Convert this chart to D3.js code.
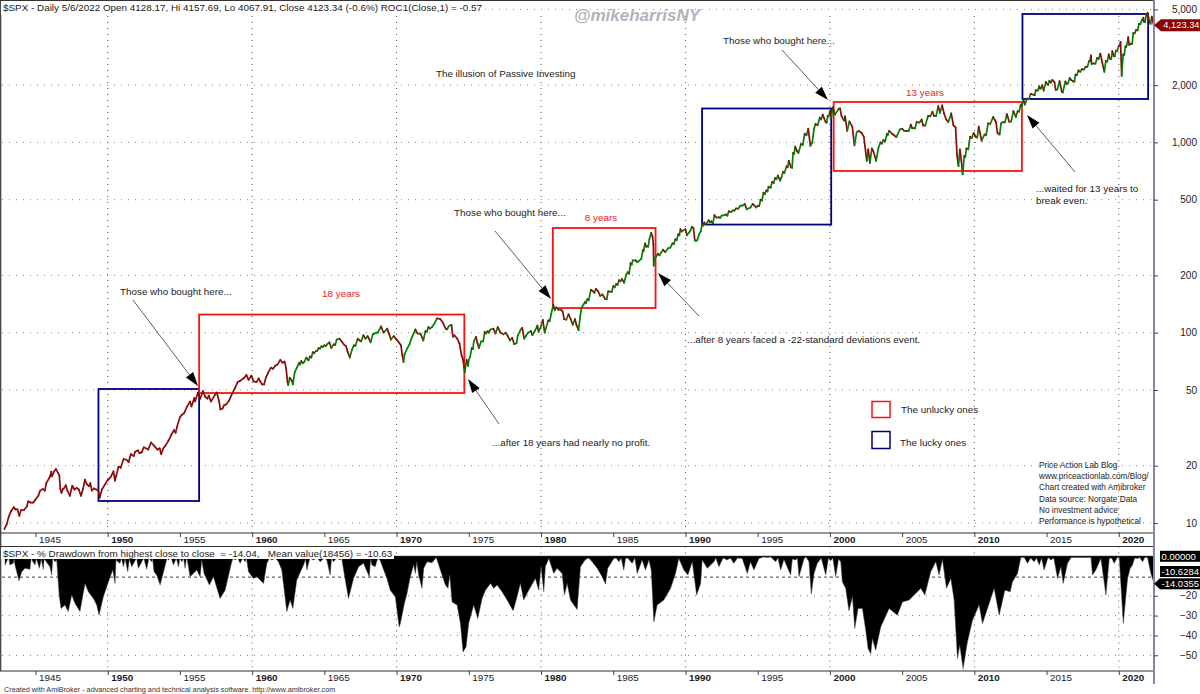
<!DOCTYPE html>
<html>
<head>
<meta charset="utf-8">
<script src="https://cdnjs.cloudflare.com/ajax/libs/d3/7.8.5/d3.min.js"></script>
<style>
  html, body { margin: 0; padding: 0; background: #fff; }
  svg { display: block; }
  text { font-family: "Liberation Sans", Arial, sans-serif; fill: #222; }
</style>
</head>
<body>
<div id="chart"></div>
<script>
// year ticks and price levels
const yearTicks = d3.range(1945, 2021, 5);
const decadeTicks = d3.range(1950, 2021, 10);
const priceTicks = [10, 20, 50, 100, 200, 500, 1000, 2000, 5000];
const drawdownTicks = [-20, -30, -40, -50];
const greenFrom = 1962.3;

// [year, close]
const priceCloses = [
[1942.85,9.3],[1943.0,9.8],[1943.15,10.8],[1943.3,11.5],[1943.5,12.1],[1943.6,11.8],[1943.75,11.8],[1943.88,10.9],
[1944.0,11.7],[1944.2,11.7],[1944.4,12.2],[1944.5,13],[1944.65,12.8],[1944.85,12.8],[1945.0,13.3],[1945.2,13.9],
[1945.3,14.7],[1945.5,15.1],[1945.65,14.8],[1945.75,16.2],[1946.0,17.5],[1946.1,18.6],[1946.15,17.6],[1946.3,18.7],
[1946.42,19.2],[1946.55,18.4],[1946.65,17.8],[1946.72,15.1],[1946.8,14.4],[1946.9,15.1],[1947.0,15.3],[1947.1,15.8],
[1947.2,14.9],[1947.38,13.9],[1947.5,15.2],[1947.55,15.7],[1947.7,15.0],[1947.85,15.3],[1948.0,15.0],[1948.15,13.9],
[1948.3,15.2],[1948.42,16.9],[1948.55,16.0],[1948.7,15.6],[1948.8,16.2],[1948.9,14.8],[1949.05,15.2],[1949.2,15.0],
[1949.35,14.8],[1949.45,13.6],[1949.6,15.0],[1949.8,15.9],[1950.0,16.8],[1950.2,17.4],[1950.4,18.7],[1950.5,16.7],
[1950.6,17.8],[1950.75,19.8],[1950.9,19.5],[1951.1,21.7],[1951.3,21.5],[1951.45,20.9],[1951.6,23],[1951.8,22.5],
[1951.9,23.7],[1952.1,24.1],[1952.2,23.3],[1952.35,23.5],[1952.5,25],[1952.8,24.3],[1953.0,26.5],[1953.2,25.5],
[1953.45,24.3],[1953.6,24.7],[1953.7,23.0],[1953.85,24.7],[1954.0,25.5],[1954.2,27],[1954.4,29],[1954.6,30.8],
[1954.7,29.8],[1954.8,32],[1955.0,35.9],[1955.1,36.8],[1955.3,37.9],[1955.5,41],[1955.7,43.5],[1955.8,41],
[1956.0,45.5],[1956.05,43.5],[1956.25,48.5],[1956.4,45],[1956.6,49.4],[1956.75,46],[1956.9,45],[1957.0,46.7],
[1957.15,43.5],[1957.45,47.4],[1957.55,48.5],[1957.7,44],[1957.8,39.5],[1957.95,40],[1958.05,41.5],[1958.2,42],
[1958.4,44],[1958.6,47.5],[1958.8,51],[1959.0,55],[1959.2,56],[1959.45,58],[1959.6,60],[1959.75,56.5],
[1959.95,59.5],[1960.1,55.5],[1960.3,55],[1960.45,57.5],[1960.55,55.5],[1960.7,53.5],[1960.83,53.5],[1960.95,58],
[1961.1,61.5],[1961.3,65.5],[1961.45,64.6],[1961.6,67],[1961.75,68],[1961.95,72],[1962.1,69.5],[1962.25,70.5],
[1962.35,65],[1962.45,55],[1962.5,53],[1962.6,58],[1962.75,56],[1962.82,53.5],[1962.95,62],[1963.1,65.5],
[1963.25,69.5],[1963.4,71],[1963.6,70],[1963.75,74],[1963.9,71.5],[1964.0,75],[1964.2,79],[1964.4,80],
[1964.6,83],[1964.8,85],[1965.0,86],[1965.2,87],[1965.35,89],[1965.48,83],[1965.65,87],[1965.85,92],
[1966.05,93],[1966.2,90],[1966.4,86],[1966.5,85],[1966.6,80],[1966.76,74],[1966.9,81],[1967.05,86],
[1967.3,93],[1967.45,91],[1967.7,97],[1967.85,93],[1968.0,96],[1968.2,89],[1968.35,98],[1968.6,100],
[1968.7,100],[1968.92,108],[1969.1,100],[1969.35,105],[1969.5,98],[1969.6,92],[1969.8,96],[1970.0,92],
[1970.15,89],[1970.3,86],[1970.4,76],[1970.48,70],[1970.55,77],[1970.75,83],[1970.9,87],[1971.0,92],
[1971.3,104],[1971.45,99],[1971.65,99],[1971.85,91],[1972.0,102],[1972.2,107],[1972.45,107],[1972.6,111],
[1972.8,119],[1973.02,118],[1973.2,113],[1973.4,105],[1973.5,104],[1973.6,108],[1973.8,110],[1973.9,95],
[1974.0,97],[1974.2,93],[1974.35,88],[1974.5,76],[1974.6,72],[1974.72,62],[1974.85,72],[1974.95,67],
[1975.0,72],[1975.2,83],[1975.35,90],[1975.5,95],[1975.6,88],[1975.7,83],[1975.85,90],[1976.0,90],
[1976.1,101],[1976.3,102],[1976.5,104],[1976.7,105],[1976.85,99],[1977.0,107],[1977.2,100],[1977.4,98],
[1977.55,100],[1977.7,96],[1977.85,91],[1978.0,94],[1978.15,87],[1978.3,88],[1978.4,97],[1978.6,104],
[1978.7,106],[1978.83,93],[1978.95,96],[1979.1,100],[1979.3,102],[1979.4,97],[1979.6,103],[1979.75,109],
[1979.83,101],[1980.0,108],[1980.12,117],[1980.25,100],[1980.3,103],[1980.5,116],[1980.7,125],[1980.85,140],
[1980.95,131],[1981.05,136],[1981.2,132],[1981.4,132],[1981.5,129],[1981.6,118],[1981.75,117],[1981.9,125],
[1982.05,118],[1982.2,110],[1982.35,118],[1982.45,110],[1982.6,103],[1982.7,120],[1982.8,135],[1982.95,141],
[1983.05,145],[1983.2,150],[1983.45,168],[1983.6,165],[1983.8,170],[1983.95,165],[1984.1,156],[1984.25,159],
[1984.45,150],[1984.55,150],[1984.65,165],[1984.9,164],[1985.0,176],[1985.2,180],[1985.4,189],[1985.6,192],
[1985.75,183],[1985.9,202],[1986.0,208],[1986.2,232],[1986.35,240],[1986.55,240],[1986.65,235],[1986.75,237],
[1986.95,245],[1987.05,272],[1987.2,295],[1987.35,285],[1987.5,310],[1987.63,335],[1987.72,320],[1987.78,290],
[1987.8,225],[1987.85,245],[1987.95,250],[1988.1,260],[1988.3,262],[1988.45,273],[1988.6,265],[1988.8,278],
[1988.95,280],[1989.1,295],[1989.3,310],[1989.5,330],[1989.65,350],[1989.75,340],[1989.85,345],[1990.0,350],
[1990.1,325],[1990.3,340],[1990.45,360],[1990.55,355],[1990.65,305],[1990.8,305],[1990.95,330],[1991.05,340],
[1991.15,370],[1991.3,380],[1991.45,375],[1991.6,390],[1991.8,385],[1991.9,375],[1992.0,415],[1992.3,405],
[1992.5,412],[1992.7,415],[1992.8,418],[1993.0,435],[1993.3,440],[1993.5,450],[1993.8,465],[1993.95,465],
[1994.1,475],[1994.25,445],[1994.5,455],[1994.65,475],[1994.9,455],[1995.0,465],[1995.2,500],[1995.4,545],
[1995.6,560],[1995.75,585],[1996.0,620],[1996.2,650],[1996.4,670],[1996.55,630],[1996.75,700],[1997.0,750],
[1997.15,800],[1997.3,740],[1997.45,880],[1997.6,950],[1997.72,900],[1997.82,880],[1998.0,980],[1998.25,1110],
[1998.5,1180],[1998.65,960],[1998.78,1000],[1998.9,1180],[1999.0,1250],[1999.3,1350],[1999.5,1400],[1999.7,1280],
[1999.85,1380],[2000.0,1460],[2000.1,1350],[2000.2,1530],[2000.35,1400],[2000.6,1500],[2000.7,1510],[2000.8,1380],
[2000.98,1300],[2001.05,1370],[2001.2,1150],[2001.35,1290],[2001.55,1210],[2001.7,965],[2001.85,1130],[2002.0,1150],
[2002.2,1120],[2002.35,1070],[2002.55,800],[2002.65,920],[2002.77,780],[2002.9,930],[2003.0,900],[2003.2,800],
[2003.35,930],[2003.5,1000],[2003.7,1030],[2003.95,1110],[2004.1,1150],[2004.3,1110],[2004.6,1065],[2004.85,1170],
[2005.0,1180],[2005.3,1150],[2005.6,1240],[2005.8,1190],[2006.0,1280],[2006.35,1320],[2006.45,1230],[2006.8,1380],
[2007.1,1450],[2007.2,1380],[2007.5,1550],[2007.62,1430],[2007.77,1565],[2007.9,1420],[2008.05,1320],[2008.2,1280],
[2008.4,1420],[2008.55,1230],[2008.7,1200],[2008.8,860],[2008.9,750],[2009.0,920],[2009.1,800],[2009.19,680],
[2009.3,850],[2009.45,930],[2009.7,1070],[2009.95,1120],[2010.1,1070],[2010.3,1210],[2010.5,1020],[2010.7,1100],
[2010.95,1260],[2011.3,1360],[2011.5,1280],[2011.6,1120],[2011.75,1100],[2011.85,1260],[2012.0,1280],[2012.25,1410],
[2012.42,1280],[2012.7,1460],[2012.87,1360],[2013.0,1460],[2013.2,1570],[2013.4,1670],[2013.5,1580],[2013.65,1700],
[2013.9,1800],[2014.1,1780],[2014.25,1880],[2014.5,1970],[2014.6,1920],[2014.7,2000],[2014.8,1870],[2014.95,2080],
[2015.1,2000],[2015.2,2110],[2015.4,2130],[2015.55,2070],[2015.63,1880],[2015.75,1900],[2015.9,2100],[2016.05,1850],
[2016.12,1830],[2016.3,2090],[2016.48,2040],[2016.6,2180],[2016.85,2090],[2017.0,2270],[2017.2,2390],[2017.45,2430],
[2017.7,2500],[2017.95,2680],[2018.07,2870],[2018.12,2580],[2018.25,2600],[2018.5,2780],[2018.72,2930],[2018.85,2640],
[2019.0,2350],[2019.1,2680],[2019.3,2900],[2019.4,2750],[2019.55,3020],[2019.65,2840],[2019.8,3040],[2020.0,3230],
[2020.12,3380],[2020.2,2237],[2020.3,2900],[2020.45,3200],[2020.6,3350],[2020.65,3580],[2020.72,3240],[2020.83,3300],
[2021.0,3750],[2021.2,3900],[2021.4,4200],[2021.6,4400],[2021.7,4520],[2021.75,4300],[2021.9,4700],[2022.0,4790],
[2022.1,4350],[2022.2,4200],[2022.28,4580],[2022.42,4120]
];

// small pullbacks inside the long rises
const priceSwings = [
[1963.3,68],[1963.5,69],[1964.1,74],[1964.3,78],[1964.5,80],[1964.7,82.5],[1964.9,84],[1965.1,85],[1965.75,86],
[1967.15,85],[1967.55,90],[1972.1,101],[1972.3,105],[1975.1,75],[1975.28,82],[1976.2,99],[1976.4,100],[1980.6,115],
[1983.1,143],[1983.3,148],[1983.7,162],[1985.1,173],[1985.3,178],[1985.5,186],[1986.1,204],[1986.28,228],[1987.1,268],
[1987.28,283],[1987.42,283],[1988.2,255],[1989.2,292],[1989.4,307],[1989.58,325],[1991.22,365],[1991.38,372],[1991.7,380],
[1992.15,402],[1992.4,400],[1992.9,412],[1993.15,430],[1993.4,438],[1993.65,448],[1995.1,462],[1995.3,495],[1995.5,535],
[1995.68,552],[1995.9,578],[1996.1,610],[1996.3,640],[1996.65,655],[1996.85,690],[1997.08,740],[1997.38,735],[1997.52,870],
[1998.12,970],[1998.38,1090],[1999.15,1230],[1999.4,1320],[1999.78,1270],[1999.92,1370],[2003.6,985],[2003.82,1010],
[2004.0,1090],[2004.45,1090],[2005.15,1150],[2005.45,1145],[2005.7,1185],[2005.9,1185],[2006.2,1270],[2006.6,1225],
[2006.95,1370],[2007.35,1375],[2009.38,840],[2009.58,920],[2009.82,1055],[2010.2,1060],[2010.82,1095],[2011.1,1250],
[2012.12,1275],[2012.55,1290],[2013.1,1450],[2013.3,1560],[2013.78,1690],[2014.18,1770],[2014.38,1870],[2014.55,1915],
[2015.3,2060],[2016.4,2030],[2016.7,2130],[2016.93,2085],[2017.1,2260],[2017.33,2350],[2017.58,2410],[2017.82,2490],
[2018.0,2670],[2018.38,2590],[2018.6,2740],[2019.2,2660],[2019.48,2745],[2019.72,2830],[2019.9,3030],[2020.06,3220],
[2020.38,2880],[2020.52,3180],[2020.92,3280],[2021.1,3740],[2021.3,3880],[2021.5,4180],[2021.65,4380],[2021.82,4290],
[2021.95,4680]
];

// [year, percent below the running high]
const drawdownPoints = [
[1942.89,-4.5],[1943.05,-2],[1943.23,-4.5],[1943.46,-3.7],[1943.58,-4.5],[1943.86,-12.5],[1944.04,-8],[1944.27,-6.2],
[1944.62,-6.7],[1944.78,-2.4],[1944.97,-4.5],[1945.13,-2.9],[1945.27,-6.2],[1945.54,-6.7],[1945.66,-2],[1946.0,-5.4],
[1946.12,-9.6],[1946.35,-2.9],[1946.47,-2],[1946.65,-20.5],[1946.77,-26.4],[1947.04,-24.7],[1947.27,-28],[1947.51,-19.7],
[1947.74,-23.9],[1948.08,-28],[1948.43,-13.8],[1948.66,-18],[1949.01,-21.4],[1949.24,-24.7],[1949.4,-29.8],[1949.7,-20.5],
[1950.05,-13],[1950.35,-7],[1950.51,-13.8],[1950.62,-2.4],[1950.85,-3.7],[1951.09,-5.4],[1951.39,-7.9],[1951.66,-5.4],
[1951.89,-2.4],[1952.12,-6.2],[1952.36,-2.9],[1952.7,-6.7],[1953.05,-2.9],[1953.21,-7.9],[1953.39,-9.6],[1953.63,-14.6],
[1954.02,-3.7],[1954.2,-2],[1954.55,-4.5],[1954.9,-5.4],[1955.13,-2.9],[1955.36,-6.2],[1955.52,-2.4],[1955.7,-10.4],
[1956.17,-7],[1956.4,-10.4],[1956.51,-2],[1956.67,-8.8],[1957.04,-14.6],[1957.32,-10.4],[1957.78,-21.4],[1958.13,-17.2],
[1958.59,-2.9],[1958.82,-2],[1959.17,-3.7],[1959.51,-2.9],[1959.75,-7.9],[1960.09,-11.3],[1960.32,-10.4],[1960.79,-13.8],
[1961.02,-3.7],[1961.36,-2],[1961.82,-2.9],[1962.05,-7],[1962.4,-28],[1962.63,-22.2],[1962.82,-26.4],[1963.09,-12.1],
[1963.56,-4.5],[1963.79,-7],[1964.25,-2],[1964.71,-2.9],[1965.17,-2],[1965.4,-9.6],[1965.63,-2.9],[1966.1,-2],
[1966.33,-7],[1966.67,-21.4],[1967.02,-11.3],[1967.37,-5.4],[1967.71,-3.7],[1968.11,-10.4],[1968.29,-4.5],[1968.52,-5.4],
[1968.87,-2.4],[1969.33,-11.3],[1969.56,-17.2],[1969.91,-20.5],[1970.18,-35.7],[1970.26,-34],[1970.54,-23.9],[1970.72,-18.9],
[1970.95,-10.5],[1971.18,-4.5],[1971.3,-8.8],[1971.53,-9.6],[1971.76,-16.3],[1971.88,-6.2],[1972.11,-2.9],[1972.45,-3.4],
[1972.75,-0.8],[1973.03,-7.1],[1973.38,-14.6],[1973.56,-16.3],[1973.68,-9.6],[1973.84,-23.1],[1974.19,-24.7],[1974.42,-34],
[1974.6,-48.3],[1974.81,-45.8],[1974.99,-34],[1975.34,-24.7],[1975.62,-31.5],[1975.92,-21.4],[1976.15,-17.2],[1976.5,-13.8],
[1976.73,-16.3],[1976.96,-14.6],[1977.3,-18],[1977.65,-22.2],[1978.07,-27.6],[1978.34,-20.5],[1978.57,-13.8],[1978.8,-22.2],
[1979.15,-17.2],[1979.61,-11.3],[1979.84,-17.2],[1980.0,-5.4],[1980.19,-18],[1980.3,-5.4],[1980.54,-1.2],[1980.88,-8.8],
[1981.11,-6.2],[1981.46,-8.8],[1981.62,-19.7],[1981.81,-13.8],[1982.04,-22.2],[1982.5,-27],[1982.73,-5.4],[1983.08,-1.7],
[1983.54,-2.9],[1983.89,-6.2],[1984.23,-10.4],[1984.46,-14.1],[1984.62,-6.2],[1985.04,-1.2],[1985.39,-2.9],[1985.73,-7.1],
[1985.85,-1.2],[1986.31,-3.7],[1986.66,-8.8],[1987.0,-2],[1987.23,-7.1],[1987.47,-2],[1987.63,-7.1],[1987.81,-33.2],
[1988.04,-24.7],[1988.5,-22.2],[1988.97,-16.3],[1989.31,-8.8],[1989.54,-1.2],[1989.89,-7.1],[1990.17,-9.6],[1990.47,-2.9],
[1990.77,-19.7],[1991.05,-13.8],[1991.16,-2],[1991.51,-6.2],[1991.97,-2.9],[1992.32,-5.4],[1992.89,-2],[1993.35,-3.7],
[1993.93,-1.2],[1994.28,-8.8],[1994.74,-7.1],[1995.09,-1.2],[1995.66,-0.7],[1996.24,-2.9],[1996.59,-7.1],[1996.82,-1.7],
[1997.28,-9.6],[1997.63,-2],[1997.86,-10.4],[1998.21,-1.2],[1998.55,-2.9],[1998.71,-19.2],[1998.9,-8.8],[1999.13,-3.7],
[1999.71,-9.6],[2000.05,-2.4],[2000.4,-10.4],[2000.75,-2.9],[2000.86,-13],[2001.09,-16.3],[2001.32,-27.6],[2001.56,-20.5],
[2001.72,-36.5],[2001.95,-26.4],[2002.25,-26.4],[2002.48,-37.4],[2002.64,-46.6],[2002.83,-49.2],[2002.94,-41.6],[2003.17,-47.5],
[2003.52,-35.7],[2004.1,-26.4],[2004.67,-29.8],[2005.02,-23.1],[2005.48,-22.2],[2005.83,-19.7],[2006.29,-16.3],[2006.57,-19.7],
[2006.98,-7.9],[2007.33,-2.9],[2007.56,-9.6],[2007.79,-1.7],[2008.07,-16.3],[2008.37,-11.3],[2008.6,-22.2],[2008.83,-51.7],
[2008.99,-44.9],[2009.22,-56.7],[2009.52,-43.3],[2009.87,-32.3],[2010.33,-24.7],[2010.56,-34],[2010.91,-26.4],[2011.37,-16.3],
[2011.72,-29.8],[2012.11,-17.2],[2012.48,-18],[2012.64,-13],[2012.99,-8.8],[2013.22,-0.7],[2013.68,-3.7],[2014.14,-2.9],
[2014.49,-4.5],[2014.83,-7.1],[2015.3,-2],[2015.76,-11.3],[2015.99,-5.4],[2016.15,-13.8],[2016.45,-3.7],[2016.91,-0.8],
[2018.07,-0.7],[2018.18,-9.6],[2018.41,-7.1],[2018.76,-1.2],[2019.11,-19.7],[2019.34,-1.2],[2019.68,-3.7],[2020.03,-0.7],
[2020.31,-34],[2020.61,-11.3],[2020.79,-6.2],[2020.95,-4.5],[2021.3,-1.2],[2021.65,-2.9],[2021.99,-0.7],[2022.22,-8.8],
[2022.45,-14]
];

// near-zero gaps between the thin spikes of the calm stretches
const drawdownRecoveries = [
[1943.15,-1],[1943.52,-1.5],[1944.7,-1],[1945.05,-1.2],[1945.4,-1.5],[1945.6,-1.5],[1946.2,-1],[1950.58,-1],[1950.95,-1],
[1951.2,-1.2],[1951.5,-1.5],[1952.0,-1],[1952.5,-1],[1952.85,-1],[1953.1,-1],[1954.1,-1],[1954.4,-1],[1954.75,-1],[1955.0,-1],
[1955.25,-1],[1955.45,-1],[1958.7,-1],[1959.0,-1],[1959.35,-1],[1959.6,-1],[1961.2,-1],[1961.6,-1],[1963.7,-1.5],[1964.0,-1],
[1964.5,-1],[1965.0,-1],[1965.5,-1],[1965.85,-1],[1966.2,-1],[1968.2,-1.5],[1968.7,-1],[1971.4,-3],[1983.3,-1],[1985.2,-1],
[1985.55,-1],[1986.0,-1],[1986.5,-1],[1992.1,-1],[1992.6,-1],[1993.1,-1],[1993.6,-1],[1994.5,-3],[1995.4,-0.5],[1995.9,-0.5],
[1996.4,-1],[1997.4,-1.5],[1997.75,-1],[1998.35,-0.5],[1999.4,-1],[1999.9,-1],[2000.2,-1],[2000.6,-1.5],[2013.45,-0.7],
[2013.9,-1],[2014.3,-1],[2014.65,-1],[2015.1,-0.7],[2015.5,-1],[2016.7,-0.7],[2019.5,-1],[2019.9,-0.7],[2021.1,-1],[2021.45,-0.7],
[2021.8,-0.7]
];

const meanDrawdown = -10.63;

// [from year, to year, low price, high price]
const luckyBoxes = [[1949.36,1956.33,13.05,50.6],[1991.15,2000.09,370,1507],[2013.33,2022.03,1691,4729]];
const unluckyBoxes = [[1956.33,1974.69,48.2,124.6],[1980.82,1987.93,134.8,355],[2000.26,2013.29,707.6,1630]];

const noteLines = ["Price Action Lab Blog","www.priceactionlab.com/Blog/","Chart created with Amibroker","Data source: Norgate Data","No investment advice","Performance is hypothetical"];

const byYear = (a, b) => d3.ascending(a[0], b[0]);
const allCloses = priceCloses.concat(priceSwings).sort(byYear);
const allDrawdown = drawdownPoints.concat(drawdownRecoveries).sort(byYear);

const svg = d3.select("#chart").append("svg").attr("width", 1200).attr("height", 694);

// layout of the two panes
const plotRight = 1154;
const mainTop = 0, mainBottom = 533, stripBottom = 546.5, lowerBottom = 671;

const xScale = d3.scaleLinear().domain([1950, 2020]).range([107.7, 1118.8]);
const yScale = d3.scaleLog().domain([10, 1000]).range([523, 142.4]);
const ddScale = d3.scaleLinear().domain([0, -50]).range([556, 655.3]);

// grid
const grid = svg.append("g");
grid.selectAll(".hgrid").data(priceTicks).join("line")
  .attr("x1", 2).attr("x2", plotRight)
  .attr("y1", d => yScale(d)).attr("y2", d => yScale(d))
  .attr("stroke", "#7f8a8f").attr("stroke-dasharray", "1,6");
grid.selectAll(".ddgrid").data(drawdownTicks).join("line")
  .attr("x1", 2).attr("x2", plotRight)
  .attr("y1", d => ddScale(d)).attr("y2", d => ddScale(d))
  .attr("stroke", "#777").attr("stroke-dasharray", "1,6");
grid.selectAll(".vgrid").data(decadeTicks).join("line")
  .attr("x1", d => xScale(d)).attr("x2", d => xScale(d))
  .attr("y1", 16).attr("y2", mainBottom)
  .attr("stroke", "#555").attr("stroke-dasharray", "1,5");
grid.selectAll(".vgrid2").data(decadeTicks).join("line")
  .attr("x1", d => xScale(d)).attr("x2", d => xScale(d))
  .attr("y1", stripBottom).attr("y2", lowerBottom)
  .attr("stroke", "#555").attr("stroke-dasharray", "1,5");

// mean drawdown line sits under the black area
svg.append("line")
  .attr("x1", 2).attr("x2", plotRight)
  .attr("y1", ddScale(meanDrawdown)).attr("y2", ddScale(meanDrawdown))
  .attr("stroke", "#444").attr("stroke-dasharray", "3,3");

// drawdown area
const ddArea = d3.area()
  .x(d => xScale(d[0]))
  .y0(ddScale(0))
  .y1(d => ddScale(d[1]));
svg.append("path").datum(allDrawdown)
  .attr("d", ddArea)
  .attr("fill", "#000").attr("stroke", "#444").attr("stroke-width", 0.5);

// boxes first, the price runs over them
function drawBoxes(rows, colour) {
  svg.append("g").selectAll("rect").data(rows).join("rect")
    .attr("x", d => xScale(d[0]))
    .attr("y", d => yScale(d[3]))
    .attr("width", d => xScale(d[1]) - xScale(d[0]))
    .attr("height", d => yScale(d[2]) - yScale(d[3]))
    .attr("fill", "none").attr("stroke", colour).attr("stroke-width", 1.8);
}
drawBoxes(luckyBoxes, "#000080");
drawBoxes(unluckyBoxes, "#ff1010");

// price, one segment per step, coloured by direction
const segments = d3.pairs(allCloses);
svg.append("g").selectAll("line").data(segments).join("line")
  .attr("x1", d => xScale(d[0][0])).attr("y1", d => yScale(d[0][1]))
  .attr("x2", d => xScale(d[1][0])).attr("y2", d => yScale(d[1][1]))
  .attr("stroke", d => (d[1][0] > greenFrom && d[1][1] >= d[0][1]) ? "#008000" : "#8b0a0a")
  .attr("stroke-width", 1.7).attr("stroke-linecap", "round");

// frame
const frame = svg.append("g").attr("stroke", "#333").attr("stroke-width", 1.2);
[mainTop + 0.5, mainBottom, stripBottom, lowerBottom].forEach(y => {
  frame.append("line").attr("x1", 0).attr("x2", plotRight).attr("y1", y).attr("y2", y);
});
frame.append("line").attr("x1", 0.7).attr("x2", 0.7).attr("y1", 0).attr("y2", lowerBottom);
svg.append("line").attr("x1", plotRight).attr("x2", plotRight).attr("y1", 0).attr("y2", 684)
  .attr("stroke", "#8b84a8").attr("stroke-width", 2);

// axes
function styleYearAxis(g) {
  g.select(".domain").remove();
  g.selectAll(".tick line").attr("stroke", "#444");
  g.selectAll(".tick text")
    .attr("text-anchor", "start").attr("x", 3).attr("y", 2.5)
    .attr("font-size", 9.9)
    .attr("font-weight", d => d % 10 === 0 ? "bold" : "normal")
    .style("fill", "#222");
}
const yearAxis = d3.axisBottom(xScale).tickValues(yearTicks).tickFormat(d3.format("d")).tickSize(4);
svg.append("g").attr("transform", `translate(0,${mainBottom})`).call(yearAxis).call(styleYearAxis);
svg.append("g").attr("transform", `translate(0,${lowerBottom})`).call(yearAxis).call(styleYearAxis);

function styleValueAxis(g) {
  g.select(".domain").remove();
  g.selectAll(".tick line").attr("stroke", "#444");
  g.selectAll(".tick text")
    .attr("text-anchor", "end").attr("x", 43)
    .attr("font-size", 10)
    .style("fill", "#222");
}
svg.append("g").attr("transform", `translate(${plotRight},0)`)
  .call(d3.axisRight(yScale).tickValues(priceTicks).tickFormat(d3.format(",d")).tickSize(4))
  .call(styleValueAxis);
svg.append("g").attr("transform", `translate(${plotRight},0)`)
  .call(d3.axisRight(ddScale).tickValues(drawdownTicks).tickFormat(d3.format("d")).tickSize(4))
  .call(styleValueAxis);

// pane titles with their white backing
svg.append("rect").attr("x", 1).attr("y", 1).attr("width", 478).attr("height", 14).attr("fill", "#fff");
svg.append("rect").attr("x", 1).attr("y", 547.5).attr("width", 393).attr("height", 11.5).attr("fill", "#fff");

function label(x, y, str, size, opts) {
  const o = opts || {};
  return svg.append("text")
    .attr("x", x).attr("y", y)
    .attr("dominant-baseline", "central")
    .attr("font-size", size)
    .attr("text-anchor", o.anchor || "start")
    .attr("font-weight", o.weight || "normal")
    .attr("font-style", o.style || "normal")
    .style("fill", o.fill || "#222")
    .text(str);
}
label(3, 7.5, "$SPX - Daily 5/6/2022 Open 4128.17, Hi 4157.69, Lo 4067.91, Close 4123.34 (-0.6%) ROC1(Close,1) = -0.57", 9.9);
label(3, 553, "$SPX - % Drawdown from highest close to close  = -14.04,   Mean value(18456) = -10.63", 9.9).style("white-space", "pre");
label(4, 689, "Created with AmiBroker - advanced charting and technical analysis software. http://www.amibroker.com", 7.25, { fill: "#333" });

label(637, 15, "@mikeharrisNY", 17, { anchor: "middle", weight: "bold", style: "italic", fill: "#b2b2bc" });
label(436, 73, "The illusion of Passive Investing", 9.8);
label(120, 291, "Those who bought here...", 9.85);
label(454, 212, "Those who bought here...", 9.85);
label(723, 40, "Those who bought here...", 9.85);
label(341, 293, "18 years", 9.85, { anchor: "middle", fill: "#f01818" });
label(601, 217, "8 years", 9.85, { anchor: "middle", fill: "#f01818" });
label(925, 92, "13 years", 9.85, { anchor: "middle", fill: "#f01818" });
label(492, 442, "...after 18 years had nearly no profit.", 9.85);
label(687, 339, "...after 8 years faced a -22-standard deviations event.", 9.85);
label(1036, 188, "...waited for 13 years to", 9.85);
label(1036, 200, "break even.", 9.85);

// legend
svg.append("rect").attr("x", 872).attr("y", 401.5).attr("width", 18).attr("height", 16).attr("fill", "none").attr("stroke", "#ff1010").attr("stroke-width", 1.5);
svg.append("rect").attr("x", 872).attr("y", 431.5).attr("width", 18).attr("height", 17).attr("fill", "none").attr("stroke", "#000080").attr("stroke-width", 1.5);
label(901, 409, "The unlucky ones", 9.85);
label(900, 442, "The lucky ones", 9.85);

// notes block
noteLines.forEach((s, i) => label(1039, 465 + i * 11.35, s, 8.25));

// arrows: [from x, from y, tip x, tip y]
const arrows = [[133,300,198,386],[495,231,551,299],[782,50,828,100],[499,424,468,379],[699,316,658,273],[1075,172,1027,115]];
arrows.forEach(a => {
  const ang = Math.atan2(a[3] - a[1], a[2] - a[0]);
  const len = 14, half = 4.5;
  const bx = a[2] - len * Math.cos(ang), by = a[3] - len * Math.sin(ang);
  const px = half * Math.sin(ang), py = half * Math.cos(ang);
  svg.append("line").attr("x1", a[0]).attr("y1", a[1]).attr("x2", bx).attr("y2", by)
    .attr("stroke", "#333").attr("stroke-width", 0.8);
  svg.append("path")
    .attr("d", `M${a[2]},${a[3]}L${bx + px},${by - py}L${bx - px},${by + py}Z`)
    .attr("fill", "#000");
});

// value badges on the right
const lastDrawdown = drawdownPoints[drawdownPoints.length - 1];
svg.append("path")
  .attr("d", `M${plotRight},${yScale(4123.34)}L1161,${yScale(4123.34) - 6}H1200V${yScale(4123.34) + 6}H1161Z`)
  .attr("fill", "#8b0000");
label(1163.3, yScale(4123.34), "4,123.34", 9.3, { fill: "#fff" });

const badgeY = [ddScale(0) + 0.3, 571.5, ddScale(lastDrawdown[1])];
const badgeText = ["0.00000", "-10.6284", "-14.0355"];
badgeY.forEach((y, i) => {
  svg.append("rect").attr("x", 1160).attr("y", y - 5.5).attr("width", 40).attr("height", 11).attr("fill", "#000");
  label(1161.5, y, badgeText[i], 9.5, { fill: "#fff" });
});
svg.append("path")
  .attr("d", `M${plotRight},${ddScale(lastDrawdown[1])}L1160,${ddScale(lastDrawdown[1]) - 5.5}V${ddScale(lastDrawdown[1]) + 5.5}Z`)
  .attr("fill", "#000");
</script>
</body>
</html>
